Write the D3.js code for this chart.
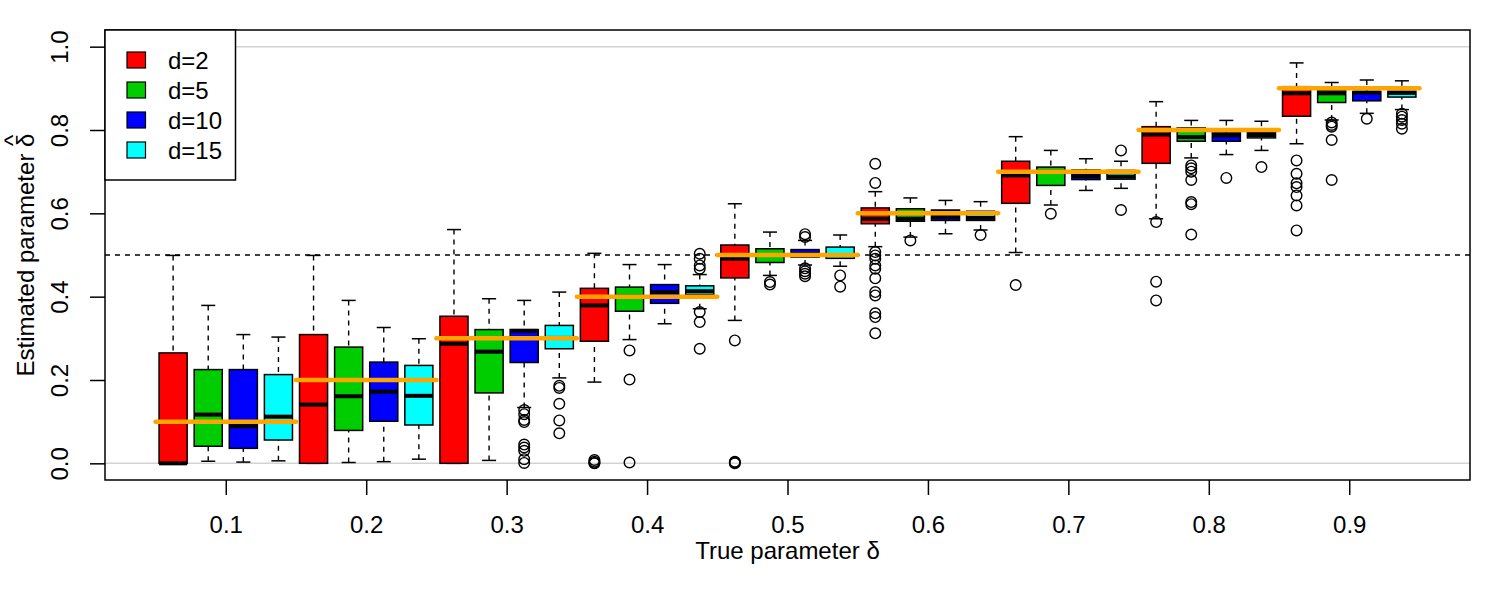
<!DOCTYPE html>
<head>
  <meta charset="utf-8">
  <script src="https://d3js.org/d3.v7.min.js"></script>
<style type="text/css">
body { margin:0; background:#fff; }
svg text { font-family:'Liberation Sans', Arial, sans-serif; }
</style>
</head>
<body>
<div id="my_dataviz"></div>

<script>
// groups on the x axis (true delta)
var groups = ["0.1", "0.2", "0.3", "0.4", "0.5", "0.6", "0.7", "0.8", "0.9"];
var trueValues = [0.1, 0.2, 0.3, 0.4, 0.5, 0.6, 0.7, 0.8, 0.9];
var seriesNames = ["d=2", "d=5", "d=10", "d=15"];
var yTicks = [0, 0.2, 0.4, 0.6, 0.8, 1.0];

// box stats per group: [lower whisker, Q1, median, Q3, upper whisker]
var stats_d2 = [
  [0.000, 0.000, 0.000, 0.265, 0.499],
  [0.000, 0.000, 0.141, 0.309, 0.499],
  [0.000, 0.000, 0.287, 0.353, 0.561],
  [0.195, 0.293, 0.379, 0.420, 0.504],
  [0.343, 0.445, 0.491, 0.524, 0.623],
  [0.520, 0.575, 0.587, 0.613, 0.652],
  [0.506, 0.624, 0.691, 0.725, 0.784],
  [0.587, 0.720, 0.789, 0.808, 0.868],
  [0.767, 0.833, 0.888, 0.904, 0.961]
];
var stats_d5 = [
  [0.005, 0.041, 0.117, 0.225, 0.379],
  [0.002, 0.079, 0.161, 0.279, 0.391],
  [0.007, 0.169, 0.268, 0.321, 0.395],
  [0.297, 0.365, 0.400, 0.423, 0.477],
  [0.451, 0.482, 0.500, 0.515, 0.555],
  [0.543, 0.581, 0.587, 0.611, 0.637],
  [0.620, 0.667, 0.700, 0.711, 0.751],
  [0.733, 0.773, 0.783, 0.805, 0.823],
  [0.824, 0.866, 0.888, 0.894, 0.914]
];
var stats_d10 = [
  [0.003, 0.036, 0.089, 0.225, 0.309],
  [0.004, 0.101, 0.172, 0.243, 0.326],
  [0.134, 0.242, 0.318, 0.321, 0.391],
  [0.335, 0.384, 0.411, 0.429, 0.477],
  [0.476, 0.495, 0.502, 0.513, 0.535],
  [0.551, 0.583, 0.591, 0.608, 0.631],
  [0.655, 0.681, 0.689, 0.704, 0.731],
  [0.741, 0.773, 0.787, 0.793, 0.823],
  [0.840, 0.870, 0.890, 0.892, 0.920]
];
var stats_d15 = [
  [0.006, 0.056, 0.112, 0.213, 0.303],
  [0.010, 0.092, 0.162, 0.235, 0.299],
  [0.205, 0.275, 0.301, 0.331, 0.411],
  [0.371, 0.405, 0.413, 0.426, 0.453],
  [0.473, 0.492, 0.500, 0.519, 0.548],
  [0.560, 0.583, 0.589, 0.605, 0.628],
  [0.660, 0.682, 0.688, 0.703, 0.725],
  [0.751, 0.781, 0.788, 0.794, 0.821],
  [0.849, 0.879, 0.889, 0.893, 0.918]
];

// outliers per group
var out_d2 = [
  [], [], [],
  [0.008, 0.004, 0.001, 0.000],
  [0.295, 0.004, 0.002, 0.000],
  [0.719, 0.673, 0.507, 0.499, 0.491, 0.475, 0.467, 0.444, 0.411, 0.403, 0.360, 0.351, 0.312],
  [0.428],
  [0.579, 0.436, 0.391],
  [0.727, 0.695, 0.672, 0.663, 0.643, 0.619, 0.559]
];
var out_d5 = [
  [], [], [],
  [0.271, 0.201, 0.002],
  [0.435, 0.429],
  [0.535],
  [0.599],
  [0.715, 0.708, 0.700, 0.680, 0.627, 0.622, 0.549],
  [0.818, 0.812, 0.808, 0.776, 0.680]
];
var out_d10 = [
  [], [],
  [0.128, 0.118, 0.104, 0.099, 0.045, 0.038, 0.030, 0.010, 0.001],
  [],
  [0.550, 0.543, 0.468, 0.461, 0.455, 0.449],
  [], [],
  [0.685],
  [0.827]
];
var out_d15 = [
  [], [],
  [0.186, 0.181, 0.143, 0.103, 0.072],
  [0.503, 0.491, 0.475, 0.467, 0.363, 0.339, 0.275],
  [0.451, 0.424],
  [0.548],
  [0.751, 0.608],
  [0.711],
  [0.839, 0.832, 0.824, 0.815, 0.803]
];

var allStats = [stats_d2, stats_d5, stats_d10, stats_d15];
var allOut = [out_d2, out_d5, out_d10, out_d15];
var colors = ["#ff0000", "#00cd00", "#0000ff", "#00ffff"];

// set the dimensions and margins of the graph
var margin = {top: 30, right: 30, bottom: 120, left: 105},
  width = 1500 - margin.left - margin.right,
  height = 600 - margin.top - margin.bottom;

var svg = d3.select("#my_dataviz")
  .append("svg")
    .attr("width", 1500)
    .attr("height", 600)
  .append("g")
    .attr("transform", "translate(" + margin.left + "," + margin.top + ")");

// positions 1..36, like R boxplot with 4% axis padding
var nPos = groups.length * seriesNames.length;
var pad = (nPos) * 0.04;
var x = d3.scaleLinear()
  .domain([0.5 - pad, nPos + 0.5 + pad])
  .range([0, width]);
var y = d3.scaleLinear()
  .domain([-0.04, 1.04])
  .range([height, 0]);

var boxW = x(0.4) - x(-0.4);

// build box list
var boxes = [];
groups.forEach(function(g, gi) {
  seriesNames.forEach(function(s, si) {
    var st = allStats[si][gi];
    boxes.push({pos: gi * 4 + si + 1, color: colors[si],
      lo: st[0], q1: st[1], med: st[2], q3: st[3], hi: st[4],
      out: allOut[si][gi]});
  });
});

// reference lines
svg.selectAll(".refline")
  .data([0, 1])
  .enter().append("line")
    .attr("x1", 0).attr("x2", width)
    .attr("y1", function(d) { return y(d); })
    .attr("y2", function(d) { return y(d); })
    .style("stroke", "#d3d3d3")
    .style("stroke-width", 1.5);

svg.append("line")
  .attr("x1", 0).attr("x2", width)
  .attr("y1", y(0.5)).attr("y2", y(0.5))
  .style("stroke", "black")
  .style("stroke-width", 1.4)
  .style("stroke-dasharray", "5,5");

// boxes
var b = svg.selectAll(".box")
  .data(boxes)
  .enter().append("g")
    .attr("class", "box");

// whiskers
b.append("line")
  .attr("x1", function(d) { return x(d.pos); })
  .attr("x2", function(d) { return x(d.pos); })
  .attr("y1", function(d) { return y(d.hi); })
  .attr("y2", function(d) { return y(d.q3); })
  .style("stroke", "black").style("stroke-width", 1.4).style("stroke-dasharray", "5,5");
b.append("line")
  .attr("x1", function(d) { return x(d.pos); })
  .attr("x2", function(d) { return x(d.pos); })
  .attr("y1", function(d) { return y(d.lo); })
  .attr("y2", function(d) { return y(d.q1); })
  .style("stroke", "black").style("stroke-width", 1.4).style("stroke-dasharray", "5,5");

// staples
["hi", "lo"].forEach(function(k) {
  b.append("line")
    .attr("x1", function(d) { return x(d.pos) - boxW / 4; })
    .attr("x2", function(d) { return x(d.pos) + boxW / 4; })
    .attr("y1", function(d) { return y(d[k]); })
    .attr("y2", function(d) { return y(d[k]); })
    .style("stroke", "black").style("stroke-width", 1.5);
});

b.append("rect")
  .attr("x", function(d) { return x(d.pos) - boxW / 2; })
  .attr("y", function(d) { return y(d.q3); })
  .attr("width", boxW)
  .attr("height", function(d) { return Math.max(0.5, y(d.q1) - y(d.q3)); })
  .style("fill", function(d) { return d.color; })
  .style("stroke", "black")
  .style("stroke-width", 1.5);

// medians
b.append("line")
  .attr("x1", function(d) { return x(d.pos) - boxW / 2; })
  .attr("x2", function(d) { return x(d.pos) + boxW / 2; })
  .attr("y1", function(d) { return y(d.med); })
  .attr("y2", function(d) { return y(d.med); })
  .style("stroke", "black").style("stroke-width", 4);

// outliers
b.selectAll("circle")
  .data(function(d) { return d.out.map(function(v) { return {pos: d.pos, v: v}; }); })
  .enter().append("circle")
    .attr("cx", function(d) { return x(d.pos); })
    .attr("cy", function(d) { return y(d.v); })
    .attr("r", 5.3)
    .style("fill", "none")
    .style("stroke", "black")
    .style("stroke-width", 1.4);

// true value segments
svg.selectAll(".truth")
  .data(trueValues)
  .enter().append("line")
    .attr("x1", function(d, i) { return x(i * 4 + 0.5); })
    .attr("x2", function(d, i) { return x(i * 4 + 4.5); })
    .attr("y1", function(d) { return y(d); })
    .attr("y2", function(d) { return y(d); })
    .style("stroke", "orange")
    .style("stroke-width", 4.5)
    .style("stroke-linecap", "round");

// frame
svg.append("rect")
  .attr("x", 0).attr("y", 0)
  .attr("width", width).attr("height", height)
  .style("fill", "none")
  .style("stroke", "black")
  .style("stroke-width", 1.5);

// axes
var xAxis = svg.append("g")
  .attr("transform", "translate(0," + height + ")")
  .call(d3.axisBottom(x)
    .tickValues(groups.map(function(g, i) { return i * 4 + 2.5; }))
    .tickFormat(function(d, i) { return groups[i]; })
    .tickSize(15).tickPadding(21));
xAxis.select(".domain").remove();
xAxis.selectAll("line").style("stroke-width", 1.5);
xAxis.selectAll("text").style("font-size", "24px").style("font-family", "'Liberation Sans', Arial").attr("fill", "black");

var yAxis = svg.append("g")
  .call(d3.axisLeft(y)
    .tickValues(yTicks)
    .tickFormat(d3.format(".1f"))
    .tickSize(15).tickPadding(0));
yAxis.select(".domain").remove();
yAxis.selectAll("line").style("stroke-width", 1.5);
yAxis.selectAll("text")
  .attr("x", null).attr("dy", null)
  .attr("text-anchor", "middle")
  .attr("transform", "translate(-37,0) rotate(-90)")
  .style("font-size", "24px")
  .style("font-family", "'Liberation Sans', Arial")
  .attr("fill", "black");

// axis titles
svg.append("text")
  .attr("x", width / 2)
  .attr("y", height + 79)
  .attr("text-anchor", "middle")
  .style("font-size", "24px")
  .text("True parameter \u03b4");

var yt = svg.append("text")
  .attr("transform", "translate(" + (33.5 - margin.left) + "," + (height / 2) + ") rotate(-90)")
  .attr("text-anchor", "middle")
  .style("font-size", "24px");
yt.append("tspan").text("Estimated parameter \u03b4");
yt.append("tspan").attr("dx", -12.5).attr("dy", -13).text("^");

// legend
var lg = svg.append("g");
lg.append("rect")
  .attr("x", 0).attr("y", 0)
  .attr("width", 130.5).attr("height", 150)
  .style("fill", "white")
  .style("stroke", "black")
  .style("stroke-width", 1.5);
seriesNames.forEach(function(s, i) {
  lg.append("rect")
    .attr("x", 22).attr("y", 22 + i * 30)
    .attr("width", 18.5).attr("height", 16)
    .style("fill", colors[i])
    .style("stroke", "black")
    .style("stroke-width", 1.2);
  lg.append("text")
    .attr("x", 63).attr("y", 30 + i * 30 + 8.6)
    .style("font-size", "24px")
    .text(s);
});
</script>
</body>
</html>
